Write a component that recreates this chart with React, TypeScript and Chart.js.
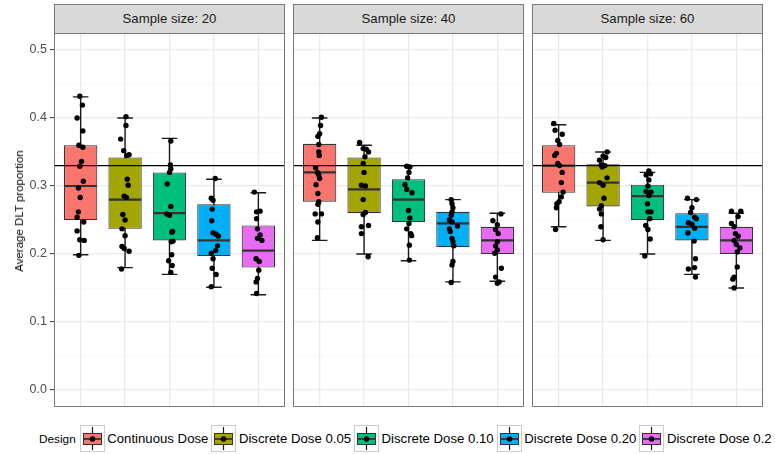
import React, { useEffect, useRef } from 'react';
import { Chart, registerables } from 'chart.js';

Chart.register(...registerables);

const FONT = '"Liberation Sans", Arial, Helvetica, sans-serif';
Chart.defaults.font.family = FONT;

// ---------- data ----------
const FACETS = ['Sample size: 20', 'Sample size: 40', 'Sample size: 60'];
const DESIGNS = ['Continuous Dose', 'Discrete Dose 0.05', 'Discrete Dose 0.10', 'Discrete Dose 0.20', 'Discrete Dose 0.25'];
const COLORS = ['#F8766D', '#A3A500', '#00BF7D', '#00B0F6', '#E76BF3'];
const Y_TICKS = [0, 0.05, 0.1, 0.15, 0.2, 0.25, 0.3, 0.35, 0.4, 0.45, 0.5];
const REF_LINE = 0.33;

// box statistics (whisker low, Q1, median, Q3, whisker high)
const lo20 = [0.199, 0.18, 0.17, 0.151, 0.14];
const q1_20 = [0.25, 0.237, 0.22, 0.197, 0.18];
const med20 = [0.30, 0.28, 0.26, 0.22, 0.205];
const q3_20 = [0.36, 0.342, 0.32, 0.273, 0.242];
const hi20 = [0.431, 0.40, 0.37, 0.31, 0.29];

const lo40 = [0.22, 0.20, 0.19, 0.159, 0.16];
const q1_40 = [0.277, 0.26, 0.247, 0.21, 0.20];
const med40 = [0.32, 0.295, 0.28, 0.245, 0.22];
const q3_40 = [0.362, 0.342, 0.31, 0.262, 0.24];
const hi40 = [0.40, 0.36, 0.33, 0.28, 0.26];

const lo60 = [0.24, 0.22, 0.20, 0.17, 0.15];
const q1_60 = [0.29, 0.27, 0.25, 0.22, 0.20];
const med60 = [0.33, 0.305, 0.285, 0.24, 0.22];
const q3_60 = [0.36, 0.332, 0.302, 0.26, 0.24];
const hi60 = [0.39, 0.35, 0.32, 0.28, 0.26];

// jittered points: [horizontal jitter (category units), value]
const cont20 = [[-0.02,0.432],[0.04,0.419],[-0.08,0.400],[0.05,0.381],[-0.04,0.360],[0.05,0.357],[0.02,0.336],[-0.02,0.329],[0.06,0.307],[-0.05,0.297],[-0.01,0.283],[-0.05,0.262],[-0.08,0.254],[0.07,0.247],[-0.08,0.234],[-0.02,0.221],[0.08,0.220],[-0.04,0.198]];
const d05_20 = [[0.02,0.402],[0.02,0.389],[-0.10,0.369],[-0.03,0.352],[0.04,0.345],[0.09,0.346],[0.05,0.310],[0.07,0.301],[-0.02,0.285],[0.03,0.283],[-0.05,0.258],[0.0,0.250],[-0.07,0.237],[0.0,0.227],[-0.07,0.211],[-0.02,0.208],[0.09,0.204],[-0.08,0.178]];
const d10_20 = [[0.03,0.366],[0.02,0.331],[0.03,0.325],[0.0,0.320],[-0.05,0.303],[0.03,0.270],[-0.06,0.259],[0.0,0.257],[0.07,0.233],[0.05,0.232],[0.08,0.219],[0.04,0.218],[0.05,0.199],[-0.02,0.190],[0.06,0.183],[0.03,0.173]];
const d20_20 = [[0.03,0.311],[-0.06,0.282],[-0.02,0.279],[-0.04,0.266],[-0.05,0.249],[-0.02,0.231],[0.05,0.229],[0.10,0.226],[0.08,0.212],[0.04,0.205],[-0.06,0.201],[-0.02,0.193],[-0.04,0.179],[0.05,0.170],[-0.06,0.152]];
const d25_20 = [[-0.09,0.291],[-0.04,0.262],[0.04,0.263],[-0.04,0.252],[-0.02,0.237],[0.04,0.228],[-0.02,0.223],[0.08,0.220],[-0.05,0.193],[0.02,0.189],[0.01,0.176],[-0.02,0.164],[-0.05,0.159],[-0.04,0.142]];

const cont40 = [[0.04,0.401],[0.02,0.389],[0,0.377],[-0.04,0.373],[-0.02,0.361],[-0.02,0.350],[-0.01,0.345],[-0.09,0.327],[-0.05,0.320],[-0.02,0.316],[0,0.311],[-0.08,0.302],[-0.04,0.289],[-0.02,0.277],[-0.04,0.273],[-0.10,0.259],[0.04,0.259],[-0.04,0.247],[-0.05,0.224]];
const d05_40 = [[-0.10,0.364],[-0.02,0.355],[0.05,0.354],[0.10,0.350],[0.02,0.343],[-0.02,0.333],[0,0.320],[-0.06,0.301],[0.03,0.300],[-0.02,0.280],[0.03,0.261],[-0.02,0.258],[0.10,0.242],[-0.06,0.240],[-0.06,0.230],[0.09,0.196]];
const d10_40 = [[-0.04,0.329],[0.03,0.328],[0.01,0.320],[-0.02,0.312],[-0.08,0.302],[-0.04,0.295],[0.08,0.290],[0,0.264],[0.03,0.253],[0.01,0.245],[-0.04,0.237],[0.05,0.230],[0.07,0.227],[0.02,0.213],[0.02,0.191]];
const d20_40 = [[-0.04,0.280],[-0.02,0.274],[0,0.268],[-0.02,0.262],[-0.04,0.257],[-0.08,0.250],[-0.02,0.247],[0.10,0.241],[-0.08,0.237],[-0.06,0.233],[-0.02,0.223],[0,0.218],[0.02,0.212],[0,0.189],[-0.02,0.184],[-0.04,0.158]];
const d25_40 = [[0.08,0.259],[-0.10,0.249],[0,0.243],[-0.04,0.236],[0.02,0.230],[0,0.218],[-0.04,0.212],[0,0.206],[-0.06,0.201],[0.09,0.179],[-0.04,0.166],[0.04,0.159],[0,0.157]];

const cont60 = [[-0.11,0.392],[-0.08,0.382],[0.08,0.376],[-0.02,0.367],[0.02,0.361],[-0.05,0.348],[-0.09,0.345],[-0.02,0.333],[0.02,0.330],[0.08,0.320],[0.06,0.305],[0.10,0.291],[0.06,0.284],[0.01,0.277],[-0.04,0.274],[-0.05,0.268],[-0.07,0.236]];
const d05_60 = [[0.09,0.350],[0,0.344],[0.06,0.342],[-0.08,0.338],[-0.04,0.331],[0.04,0.330],[-0.02,0.328],[0.09,0.312],[-0.08,0.305],[0,0.301],[0.02,0.282],[-0.04,0.271],[-0.08,0.266],[-0.04,0.259],[-0.05,0.240],[0,0.221]];
const d10_60 = [[0.03,0.322],[-0.03,0.316],[0.07,0.318],[0.03,0.309],[0.01,0.300],[-0.03,0.292],[0.08,0.291],[0.03,0.286],[0,0.274],[0.01,0.262],[0.08,0.262],[0.05,0.252],[-0.04,0.242],[0.01,0.236],[0.06,0.222],[-0.06,0.197]];
const d20_60 = [[-0.10,0.282],[0.10,0.280],[0,0.268],[-0.03,0.261],[0.06,0.254],[0.10,0.252],[-0.08,0.246],[0,0.244],[0.06,0.238],[-0.09,0.231],[0.05,0.219],[0.08,0.193],[0.06,0.180],[-0.08,0.178],[0.08,0.166]];
const d25_60 = [[-0.11,0.263],[0.10,0.263],[0.04,0.255],[-0.11,0.245],[-0.05,0.240],[-0.02,0.230],[0.04,0.226],[-0.05,0.220],[0,0.214],[0.08,0.209],[0.02,0.203],[0.02,0.181],[-0.05,0.166],[-0.08,0.163],[-0.05,0.150]];

const STATS = [
  { lo: lo20, q1: q1_20, med: med20, q3: q3_20, hi: hi20 },
  { lo: lo40, q1: q1_40, med: med40, q3: q3_40, hi: hi40 },
  { lo: lo60, q1: q1_60, med: med60, q3: q3_60, hi: hi60 },
];
const POINTS = [
  [cont20, d05_20, d10_20, d20_20, d25_20],
  [cont40, d05_40, d10_40, d20_40, d25_40],
  [cont60, d05_60, d10_60, d20_60, d25_60],
];

// ---------- layout ----------
const PANEL_LEFTS = [54, 293, 532];
const PANEL_W = 231;
const PANEL_TOP = 33;
const PANEL_H = 374;
const AXIS_W = 54;
const BOX_HALF = 0.375;
const CAP_HALF = 0.175;

const isMajor = (v: number) => Math.abs(v * 10 - Math.round(v * 10)) < 1e-6;

const zeroPad = (s: any) => {
  s.paddingTop = 0; s.paddingBottom = 0; s.paddingLeft = 0; s.paddingRight = 0;
};

const boxPlugin = {
  id: 'boxExtras',
  beforeDatasetsDraw(chart: any, _a: any, opts: any) {
    const { ctx } = chart;
    const x = chart.scales.x, y = chart.scales.y;
    ctx.save();
    ctx.strokeStyle = '#1a1a1a';
    ctx.lineWidth = 1.4;
    opts.lo.forEach((lo: number, i: number) => {
      const c = i + 1;
      const cx = x.getPixelForValue(c);
      const l = x.getPixelForValue(c - CAP_HALF);
      const r = x.getPixelForValue(c + CAP_HALF);
      const yl = y.getPixelForValue(lo);
      const yh = y.getPixelForValue(opts.hi[i]);
      ctx.beginPath();
      ctx.moveTo(cx, yl); ctx.lineTo(cx, yh);
      ctx.moveTo(l, yl); ctx.lineTo(r, yl);
      ctx.moveTo(l, yh); ctx.lineTo(r, yh);
      ctx.stroke();
    });
    ctx.restore();
  },
  afterDatasetDraw(chart: any, args: any, opts: any) {
    if (args.index !== 0) return;
    const { ctx } = chart;
    const x = chart.scales.x, y = chart.scales.y;
    ctx.save();
    ctx.strokeStyle = '#333333';
    ctx.lineWidth = 2.2;
    opts.med.forEach((m: number, i: number) => {
      const c = i + 1;
      const ym = y.getPixelForValue(m);
      ctx.beginPath();
      ctx.moveTo(x.getPixelForValue(c - BOX_HALF) + 0.5, ym);
      ctx.lineTo(x.getPixelForValue(c + BOX_HALF) - 0.5, ym);
      ctx.stroke();
    });
    ctx.restore();
  },
  afterDraw(chart: any) {
    const { ctx, chartArea: a } = chart;
    ctx.save();
    ctx.strokeStyle = '#7a7a7a';
    ctx.lineWidth = 1;
    ctx.strokeRect(a.left + 0.5, a.top + 0.5, a.right - a.left - 1, a.bottom - a.top - 1);
    ctx.restore();
  },
};

function makeChart(canvas: HTMLCanvasElement, f: number) {
  const st = STATS[f];
  const first = f === 0;
  const scatter: { x: number; y: number }[] = [];
  POINTS[f].forEach((grp, i) => grp.forEach(([dx, v]) => scatter.push({ x: i + 1 + dx, y: v })));
  return new Chart(canvas, {
    type: 'bar',
    data: {
      datasets: [
        {
          type: 'bar',
          data: st.q1.map((q, i) => ({ x: i + 1, y: [q, st.q3[i]] })) as any,
          backgroundColor: COLORS,
          borderColor: '#333333',
          borderWidth: 1.1,
          borderSkipped: false,
          categoryPercentage: 1,
          barPercentage: 2 * BOX_HALF,
          order: 3,
        } as any,
        {
          type: 'line',
          data: [{ x: 0.4, y: REF_LINE }, { x: 5.6, y: REF_LINE }],
          borderColor: '#000000',
          borderWidth: 1.2,
          pointRadius: 0,
          order: 2,
        } as any,
        {
          type: 'scatter',
          data: scatter,
          backgroundColor: '#000000',
          borderWidth: 0,
          pointRadius: 2.7,
          order: 1,
        } as any,
      ],
    },
    options: {
      animation: false,
      responsive: false,
      devicePixelRatio: 1,
      events: [],
      layout: { padding: 0, autoPadding: false } as any,
      plugins: {
        legend: { display: false },
        tooltip: { enabled: false },
        boxExtras: st,
      } as any,
      scales: {
        x: {
          type: 'linear',
          min: 0.4,
          max: 5.6,
          offset: false,
          afterBuildTicks: (s: any) => { s.ticks = [1, 2, 3, 4, 5].map((v) => ({ value: v })); },
          afterFit: (s: any) => { s.height = 0; zeroPad(s); },
          ticks: { display: false },
          border: { display: false },
          grid: { color: '#EBEBEB', lineWidth: 1.3, drawTicks: false, offset: false },
        },
        y: {
          type: 'linear',
          min: -0.025,
          max: 0.525,
          afterBuildTicks: (s: any) => { s.ticks = Y_TICKS.map((v) => ({ value: v })); },
          afterFit: (s: any) => { s.width = first ? AXIS_W : 0; zeroPad(s); },
          border: { display: false },
          ticks: {
            display: first,
            autoSkip: false,
            padding: 3,
            color: '#4D4D4D',
            font: { size: 12.5, family: FONT },
            callback: (v: any) => (isMajor(Number(v)) ? Number(v).toFixed(1) : ''),
          },
          grid: {
            drawTicks: first,
            tickLength: 4,
            tickWidth: 1,
            color: (c: any) => (c.tick && !isMajor(c.tick.value) ? '#F5F5F5' : '#EBEBEB'),
            lineWidth: (c: any) => (c.tick && !isMajor(c.tick.value) ? 0.7 : 1.2),
            tickColor: (c: any) => (c.tick && !isMajor(c.tick.value) ? 'rgba(0,0,0,0)' : '#333333'),
          },
        },
      },
    } as any,
    plugins: [boxPlugin as any],
  });
}

function LegendKey({ color }: { color: string }) {
  return (
    <svg width={25} height={27} style={{ display: 'block', flex: '0 0 auto' }}>
      <rect x={0.5} y={0.5} width={24} height={26} fill="#ffffff" stroke="#CCCCCC" strokeWidth={1} />
      <line x1={12.5} y1={2} x2={12.5} y2={25} stroke="#1a1a1a" strokeWidth={1.2} />
      <rect x={3.5} y={8.5} width={18} height={11} fill={color} stroke="#333333" strokeWidth={1} />
      <line x1={3.5} y1={14} x2={21.5} y2={14} stroke="#333333" strokeWidth={1.8} />
      <circle cx={12.5} cy={14} r={2.8} fill="#000000" />
    </svg>
  );
}

export default function App() {
  const r0 = useRef<HTMLCanvasElement>(null);
  const r1 = useRef<HTMLCanvasElement>(null);
  const r2 = useRef<HTMLCanvasElement>(null);
  const refs = [r0, r1, r2];

  useEffect(() => {
    const charts = refs.map((r, f) => makeChart(r.current as HTMLCanvasElement, f));
    return () => charts.forEach((c) => c.destroy());
  }, []);

  return (
    <div
      style={{
        position: 'fixed', left: 0, top: 0, width: 775, height: 454,
        overflow: 'hidden', background: '#ffffff', fontFamily: FONT,
      }}
    >
      {FACETS.map((t, f) => (
        <div
          key={t}
          style={{
            position: 'absolute', left: PANEL_LEFTS[f], top: 4, width: PANEL_W, height: 30,
            boxSizing: 'border-box', border: '1px solid #7a7a7a', background: '#D9D9D9',
            color: '#1A1A1A', fontSize: 13.2, lineHeight: '28px', textAlign: 'center',
          }}
        >
          {t}
        </div>
      ))}
      {FACETS.map((t, f) => {
        const w = PANEL_W + (f === 0 ? AXIS_W : 0);
        const left = PANEL_LEFTS[f] - (f === 0 ? AXIS_W : 0);
        return (
          <canvas
            key={'c' + t}
            ref={refs[f]}
            width={w}
            height={PANEL_H}
            style={{ position: 'absolute', left, top: PANEL_TOP, width: w, height: PANEL_H }}
          />
        );
      })}
      <div
        style={{
          position: 'absolute', left: 18.5, top: 210.5, transform: 'translate(-50%, -50%) rotate(-90deg)',
          whiteSpace: 'nowrap', fontSize: 11.5, color: '#000000',
        }}
      >
        Average DLT proportion
      </div>
      <div
        style={{
          position: 'absolute', left: 39, top: 425, width: 732, height: 27, display: 'flex',
          alignItems: 'center', whiteSpace: 'nowrap', color: '#000000', overflow: 'hidden',
        }}
      >
        <span style={{ fontSize: 11.8, marginRight: 4, flex: '0 0 auto' }}>Design</span>
        {DESIGNS.map((d, i) => (
          <React.Fragment key={d}>
            <LegendKey color={COLORS[i]} />
            <span style={{ fontSize: 13.2, marginLeft: 2.5, marginRight: 3, flex: '0 0 auto' }}>{d}</span>
          </React.Fragment>
        ))}
      </div>
    </div>
  );
}
